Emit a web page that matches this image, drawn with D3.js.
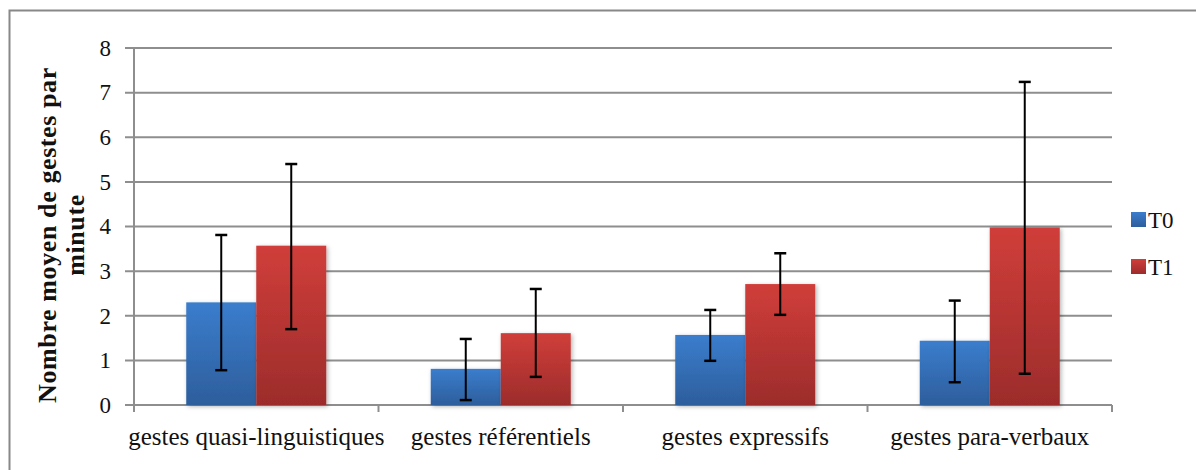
<!DOCTYPE html>
<html>
<head>
<meta charset="utf-8">
<script src="https://cdn.jsdelivr.net/npm/d3@7"></script>
<style>
  body { margin: 0; background: #fff; }
  text { font-family: "Liberation Serif", "Times New Roman", serif; }
</style>
</head>
<body>
<div id="chart"></div>
<script>
var categories = ["gestes quasi-linguistiques", "gestes référentiels", "gestes expressifs", "gestes para-verbaux"];
var series = ["T0", "T1"];
var t0Values = [2.30, 0.81, 1.57, 1.44];
var t1Values = [3.57, 1.61, 2.71, 3.98];
var t0ErrLow = [0.78, 0.11, 0.99, 0.51];
var t0ErrHigh = [3.81, 1.48, 2.13, 2.34];
var t1ErrLow = [1.70, 0.63, 2.02, 0.70];
var t1ErrHigh = [5.40, 2.60, 3.40, 7.24];
var yTicks = [0, 1, 2, 3, 4, 5, 6, 7, 8];

var W = 1196, H = 470;
var margin = { top: 48, right: 84, bottom: 65, left: 134 },
  width = W - margin.left - margin.right,
  height = H - margin.top - margin.bottom;

var svgRoot = d3.select("#chart")
  .append("svg")
  .attr("width", W)
  .attr("height", H);

var defs = svgRoot.append("defs");
var grads = { T0: ["#3b7dcd", "#2d5e9c"], T1: ["#d03e3a", "#9c2c2b"] };
series.forEach(function (s) {
  var g = defs.append("linearGradient")
    .attr("id", "grad" + s)
    .attr("x1", 0).attr("y1", 0).attr("x2", 0).attr("y2", 1);
  g.append("stop").attr("offset", "0%").attr("stop-color", grads[s][0]);
  g.append("stop").attr("offset", "100%").attr("stop-color", grads[s][1]);
});
var f = defs.append("filter").attr("id", "shadow")
  .attr("x", "-10%").attr("y", "-10%").attr("width", "130%").attr("height", "130%");
f.append("feDropShadow").attr("dx", 1.5).attr("dy", 1.5).attr("stdDeviation", 2)
  .attr("flood-color", "#000").attr("flood-opacity", 0.3);

// outer frame
svgRoot.append("rect")
  .attr("x", 9.5).attr("y", 10.5)
  .attr("width", W + 20).attr("height", H + 20)
  .attr("fill", "none").attr("stroke", "#888").attr("stroke-width", 2);

var svg = svgRoot.append("g")
  .attr("transform", "translate(" + margin.left + "," + margin.top + ")");

var x = d3.scaleBand().domain(categories).range([0, width]);
var y = d3.scaleLinear().domain([0, 8]).range([height, 0]);

var barW = 70;
var xs = d3.scaleBand().domain(series).range([x.bandwidth() / 2 - barW, x.bandwidth() / 2 + barW]);

// gridlines
svg.selectAll(".grid")
  .data(yTicks).enter()
  .append("line")
  .attr("x1", -9).attr("x2", width)
  .attr("y1", function (d) { return y(d); })
  .attr("y2", function (d) { return y(d); })
  .attr("stroke", "#8e8e8e").attr("stroke-width", 2);

// y axis line
svg.append("line")
  .attr("x1", 0).attr("x2", 0).attr("y1", 0).attr("y2", height)
  .attr("stroke", "#8e8e8e").attr("stroke-width", 2);

// x ticks between categories
var xTickPos = d3.range(categories.length + 1).map(function (i) { return i * x.step(); });
svg.selectAll(".xtick")
  .data(xTickPos).enter()
  .append("line")
  .attr("x1", function (d) { return d; }).attr("x2", function (d) { return d; })
  .attr("y1", height).attr("y2", height + 7)
  .attr("stroke", "#8e8e8e").attr("stroke-width", 2);

// y tick labels
svg.selectAll(".ylab")
  .data(yTicks).enter()
  .append("text")
  .attr("x", -23)
  .attr("y", function (d) { return y(d); })
  .attr("dy", "0.34em")
  .attr("text-anchor", "end")
  .style("font-size", "23px")
  .style("fill", "#111")
  .text(function (d) { return d; });

// x labels
svg.selectAll(".xlab")
  .data(categories).enter()
  .append("text")
  .attr("x", function (d) { return x(d) + x.bandwidth() / 2; })
  .attr("y", height + 40)
  .attr("text-anchor", "middle")
  .style("font-size", "25px")
  .style("fill", "#111")
  .text(function (d) { return d; });

// bars
var rows = categories.map(function (c, i) {
  return [
    { cat: c, s: "T0", v: t0Values[i], lo: t0ErrLow[i], hi: t0ErrHigh[i] },
    { cat: c, s: "T1", v: t1Values[i], lo: t1ErrLow[i], hi: t1ErrHigh[i] }
  ];
});
var flat = [].concat.apply([], rows);

svg.selectAll(".bar")
  .data(flat).enter()
  .append("rect")
  .attr("x", function (d) { return x(d.cat) + xs(d.s); })
  .attr("width", xs.bandwidth())
  .attr("y", function (d) { return y(d.v); })
  .attr("height", function (d) { return height - y(d.v); })
  .attr("fill", function (d) { return "url(#grad" + d.s + ")"; })
  .attr("filter", "url(#shadow)");

// error bars
var eb = svg.selectAll(".err")
  .data(flat).enter()
  .append("g")
  .attr("transform", function (d) { return "translate(" + (x(d.cat) + xs(d.s) + xs.bandwidth() / 2) + ",0)"; });
eb.append("line")
  .attr("y1", function (d) { return y(d.lo); })
  .attr("y2", function (d) { return y(d.hi); })
  .attr("stroke", "#000").attr("stroke-width", 2);
eb.append("line")
  .attr("x1", -6).attr("x2", 6)
  .attr("y1", function (d) { return y(d.hi); })
  .attr("y2", function (d) { return y(d.hi); })
  .attr("stroke", "#000").attr("stroke-width", 2.5);
eb.append("line")
  .attr("x1", -6).attr("x2", 6)
  .attr("y1", function (d) { return y(d.lo); })
  .attr("y2", function (d) { return y(d.lo); })
  .attr("stroke", "#000").attr("stroke-width", 2.5);

// y axis title
var title = svgRoot.append("text")
  .attr("transform", "translate(56,235) rotate(-90)")
  .attr("text-anchor", "middle")
  .style("font-size", "26px")
  .style("font-weight", "bold")
  .style("letter-spacing", "0.6px")
  .style("fill", "#111");
title.append("tspan").attr("x", 0).attr("dy", 0).text("Nombre moyen de gestes par");
title.append("tspan").attr("x", 0).attr("dy", 28).text("minute");

// legend
var legend = svgRoot.append("g")
  .attr("transform", "translate(1131,212)");
var items = legend.selectAll(".legend-item")
  .data(series).enter()
  .append("g")
  .attr("transform", function (d, i) { return "translate(0," + i * 47 + ")"; });
items.append("rect")
  .attr("width", 15).attr("height", 15)
  .attr("fill", function (d) { return "url(#grad" + d + ")"; });
items.append("text")
  .attr("x", 17).attr("y", 8)
  .attr("dy", "0.35em")
  .style("font-size", "23px")
  .style("fill", "#111")
  .text(function (d) { return d; });
</script>
</body>
</html>
